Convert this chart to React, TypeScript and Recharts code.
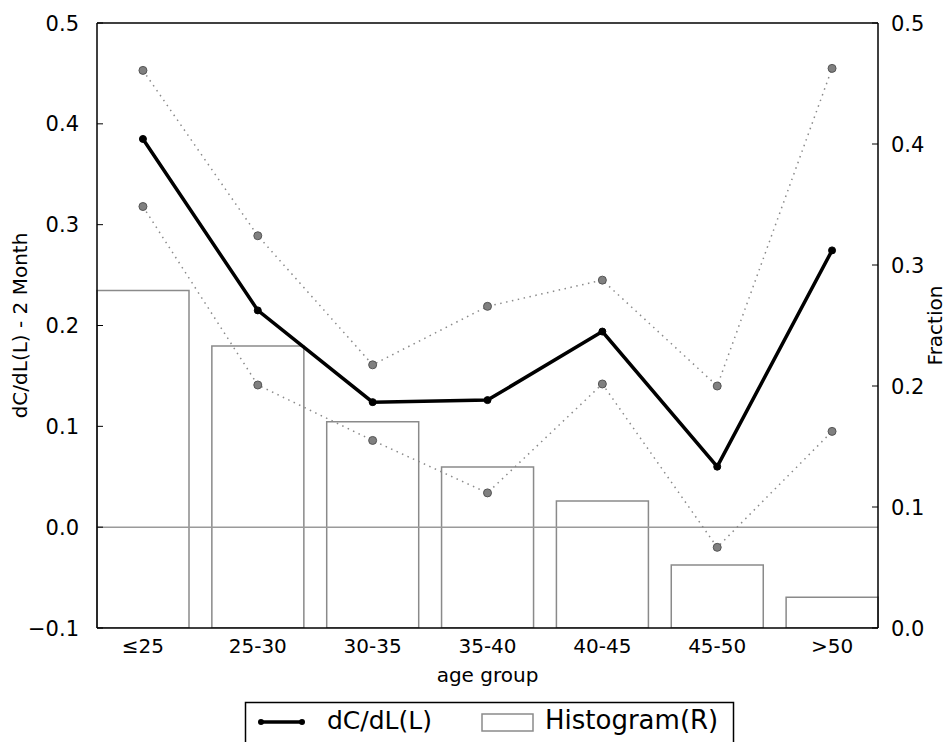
import React from 'react';
import { ComposedChart, Bar, Line, XAxis, YAxis, ReferenceLine } from 'recharts';

const categories = ['≤25', '25-30', '30-35', '35-40', '40-45', '45-50', '>50'];
const dcdl = [0.385, 0.215, 0.124, 0.126, 0.194, 0.06, 0.2745];
const upperBand = [0.453, 0.289, 0.161, 0.219, 0.245, 0.14, 0.455];
const lowerBand = [0.318, 0.141, 0.086, 0.034, 0.142, -0.02, 0.095];
const fraction = [0.279, 0.233, 0.1705, 0.133, 0.105, 0.052, 0.0254];
const leftTicks = [-0.1, 0, 0.1, 0.2, 0.3, 0.4, 0.5];
const rightTicks = [0, 0.1, 0.2, 0.3, 0.4, 0.5];
const xTicks = categories.map((_, i) => i);

const data = categories.map((c, i) => ({
  idx: i,
  name: c,
  dcdl: dcdl[i],
  upper: upperBand[i],
  lower: lowerBand[i],
  fraction: fraction[i],
}));

const FONT = '"DejaVu Sans", Verdana, sans-serif';
const fmt = (v: number) => v.toFixed(1).replace('-', '\u2212');
const LMARGIN = 18;
const RMARGIN = 13;

const LeftTick = (props: any) => {
  const { x, y, payload } = props;
  const ax = x + LMARGIN;
  return (
    <g>
      <text x={x} y={y} dy="0.36em" textAnchor="end" fontFamily={FONT} fontSize={21} fill="#000">
        {fmt(payload.value)}
      </text>
      <line x1={ax} x2={ax + 6} y1={y} y2={y} stroke="#000" strokeWidth={1} />
    </g>
  );
};

const RightTick = (props: any) => {
  const { x, y, payload } = props;
  const ax = x - RMARGIN;
  return (
    <g>
      <text x={x} y={y} dy="0.36em" textAnchor="start" fontFamily={FONT} fontSize={21} fill="#000">
        {fmt(payload.value)}
      </text>
      <line x1={ax - 6} x2={ax} y1={y} y2={y} stroke="#000" strokeWidth={1} />
    </g>
  );
};

export default function App() {
  return (
    <div style={{ position: 'absolute', left: 0, top: 0, width: 947, height: 742, overflow: 'hidden', background: '#fff' }}>
      <ComposedChart
        width={947}
        height={742}
        data={data}
        margin={{ top: 23, right: 0, bottom: 0, left: 0 }}
        barCategoryGap="10%"
      >
        <XAxis
          dataKey="idx"
          type="number"
          domain={[-0.4, 6.4]}
          ticks={xTicks}
          tickFormatter={(v: number) => categories[v]}
          tickLine={false}
          tickSize={0}
          tickMargin={11}
          height={114}
          axisLine={{ stroke: '#000', strokeWidth: 1.5 }}
          tick={{ fontSize: 20, fontFamily: FONT, fill: '#000' }}
          label={{ value: 'age group', position: 'insideBottom', offset: 60, style: { fontSize: 20, fontFamily: FONT, fill: '#000' } }}
        />
        <YAxis
          yAxisId="left"
          orientation="left"
          width={97}
          domain={[-0.1, 0.5]}
          ticks={leftTicks}
          allowDataOverflow
          tickLine={false}
          tickSize={0}
          tickMargin={LMARGIN}
          axisLine={{ stroke: '#000', strokeWidth: 1.5 }}
          tick={<LeftTick />}
          label={{ value: 'dC/dL(L) - 2 Month', angle: -90, position: 'insideLeft', offset: 20, style: { textAnchor: 'middle', fontSize: 20, fontFamily: FONT, fill: '#000' } }}
        />
        <YAxis
          yAxisId="right"
          orientation="right"
          width={69}
          domain={[0, 0.5]}
          ticks={rightTicks}
          allowDataOverflow
          tickLine={false}
          tickSize={0}
          tickMargin={RMARGIN}
          axisLine={{ stroke: '#000', strokeWidth: 1.5 }}
          tick={<RightTick />}
          label={{ value: 'Fraction', angle: -90, position: 'insideRight', offset: 12, style: { textAnchor: 'middle', fontSize: 20, fontFamily: FONT, fill: '#000' } }}
        />
        <Bar
          yAxisId="right"
          dataKey="fraction"
          fill="none"
          stroke="#8a8a8a"
          strokeWidth={1.5}
          isAnimationActive={false}
        />
        <ReferenceLine yAxisId="left" y={0} stroke="#9a9a9a" strokeWidth={1.5} />
        <ReferenceLine yAxisId="left" y={0.5} stroke="#000" strokeWidth={1.5} />
        <Line
          yAxisId="left"
          type="linear"
          dataKey="upper"
          stroke="#8a8a8a"
          strokeWidth={1.5}
          strokeDasharray="1.5 4.5"
          dot={{ r: 4, fill: '#808080', stroke: '#555', strokeWidth: 1, strokeDasharray: '' }}
          isAnimationActive={false}
        />
        <Line
          yAxisId="left"
          type="linear"
          dataKey="lower"
          stroke="#8a8a8a"
          strokeWidth={1.5}
          strokeDasharray="1.5 4.5"
          dot={{ r: 4, fill: '#808080', stroke: '#555', strokeWidth: 1, strokeDasharray: '' }}
          isAnimationActive={false}
        />
        <Line
          yAxisId="left"
          type="linear"
          dataKey="dcdl"
          stroke="#000"
          strokeWidth={3.5}
          dot={{ r: 3.5, fill: '#000', stroke: '#000', strokeWidth: 1 }}
          isAnimationActive={false}
        />
      </ComposedChart>
      <svg width={947} height={742} style={{ position: 'absolute', left: 0, top: 0, pointerEvents: 'none' }}>
        <rect x={245.5} y={702.5} width={488} height={60} fill="#fff" stroke="#000" strokeWidth={1.5} />
        <line x1={261} x2={302} y1={722} y2={722} stroke="#000" strokeWidth={3.5} />
        <circle cx={261} cy={722} r={3} fill="#000" />
        <circle cx={302} cy={722} r={3} fill="#000" />
        <text x={327} y={729} fontFamily={FONT} fontSize={25} fill="#000">dC/dL(L)</text>
        <rect x={482} y={714} width={51} height={17} fill="#fff" stroke="#8a8a8a" strokeWidth={1.5} />
        <text x={545} y={729} fontFamily={FONT} fontSize={26} fill="#000">Histogram(R)</text>
      </svg>
    </div>
  );
}
